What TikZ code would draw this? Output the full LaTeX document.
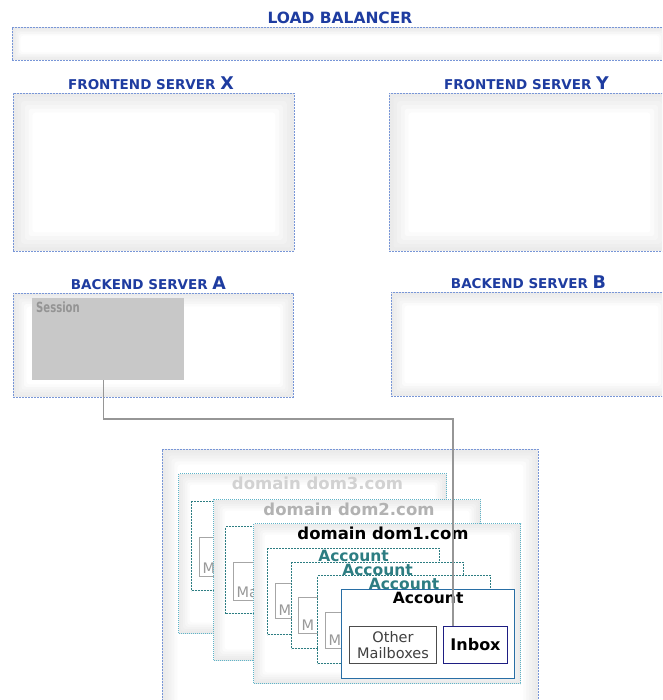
\documentclass[tikz,border=0pt]{standalone}
\usepackage{fontspec}
\setmainfont{DejaVu Sans}
\usepackage{xcolor}
\usepackage{tikz}
\usetikzlibrary{positioning}
\definecolor{srvblue}{RGB}{30, 60, 160}
\definecolor{srvedge}{RGB}{120, 150, 215}
\definecolor{domedge}{RGB}{95, 180, 200}
\definecolor{accteal}{RGB}{45, 125, 130}
\definecolor{accedge}{RGB}{40, 110, 165}
\definecolor{inboxnavy}{RGB}{30, 30, 130}
\definecolor{sessgray}{RGB}{200, 200, 200}
\definecolor{linkgray}{RGB}{150, 150, 150}
\newcommand{\bigfont}{\bfseries\fontsize{17.5}{18}\selectfont}

\begin{document}
\begin{tikzpicture}[
    x=1pt, y=-1pt,
    glow/.style={fill=gray!16, path picture={
        \foreach \f/\c in {0.2/13, 0.4/10, 0.6/7, 0.8/3, 1/0}{
          \fill[gray!\c, rounded corners=3pt]
            ([shift={(\f*#1pt,-\f*#1pt)}]path picture bounding box.north west) rectangle
            ([shift={(-\f*#1pt,\f*#1pt)}]path picture bounding box.south east);
        }}},
    server/.style={rectangle, draw=srvedge, dash pattern=on 2pt off 1pt, line width=0.9pt,
                   glow=#1, anchor=north west, inner sep=0pt},
    dombox/.style={rectangle, draw=domedge, dash pattern=on 1pt off 1pt, line width=1pt,
                   glow=11, anchor=north west, inner sep=0pt},
    account/.style={rectangle, draw=accteal, dash pattern=on 2pt off 1pt, line width=1pt,
                    fill=white, anchor=north west, inner sep=0pt,
                    minimum width=172pt, minimum height=87pt},
    frontacc/.style={account, draw=accedge, solid, line width=1.3pt, minimum height=89pt},
    mailbox/.style={rectangle, draw=gray!70, line width=1pt, fill=white, anchor=north west,
                    inner sep=0pt, minimum width=86pt, minimum height=37pt},
    srvtitle/.style={font=\bfseries\fontsize{13.5}{15}\selectfont, text=srvblue, inner sep=0pt},
    domtitle/.style={font=\bfseries\fontsize{16.5}{18}\selectfont, inner sep=0pt},
    acctitle/.style={font=\bfseries\fontsize{15.5}{17}\selectfont, inner sep=0pt},
    mbtext/.style={font=\fontsize{14.5}{15.5}\selectfont, text=gray!80, inner sep=3.5pt},
    link/.style={draw=linkgray, line width=1.3pt}
]
\useasboundingbox (0,0) rectangle (662,700);
\clip (0,0) rectangle (662,700);

% load balancer and frontends
\node[server=8, minimum width=655pt, minimum height=33pt] (lb) at (12,27) {};
\node[srvtitle, font=\bfseries\fontsize{15.5}{17}\selectfont, above=3pt of lb.north] (lbt) {LOAD BALANCER};
\node[server=19, minimum width=281pt, minimum height=158pt] (fx) at (13,93) {};
\node[srvtitle, above=3pt of fx.north, xshift=-3pt] (fxt) {FRONTEND SERVER {\bigfont X}};
\node[server=19, minimum width=280pt, minimum height=158pt] (fy) at (389,93) {};
\node[srvtitle, above=3pt of fy.north, xshift=-3pt] (fyt) {FRONTEND SERVER {\bigfont Y}};

% backends
\node[server=13, minimum width=280pt, minimum height=104pt] (ba) at (13,293) {};
\node[srvtitle, above=3pt of ba.north, xshift=-5pt] (bat) {BACKEND SERVER {\bigfont A}};
\node[server=13, minimum width=280pt, minimum height=104pt] (bb) at (391,292) {};
\node[srvtitle, above=3pt of bb.north, xshift=-3pt] (bbt) {BACKEND SERVER {\bigfont B}};
\node[rectangle, fill=sessgray, anchor=north west, inner sep=0pt,
      minimum width=152pt, minimum height=82pt,
      label={[anchor=north west, inner sep=4pt, text=black!42,
              font=\bfseries\fontsize{14}{15}\selectfont]north west:\scalebox{0.72}[1]{Session}}] (session) at (32,298) {};

% message store
\node[server=15, minimum width=376pt, minimum height=270pt] (store) at (162,449) {};

\node[dombox, minimum width=268pt, minimum height=160pt] (dom3) at (178,473) {};
\node[domtitle, text=gray!35, below=4pt of dom3.north, xshift=5pt] (dom3t) {domain dom3.com};
\node[account, minimum height=89pt] (acc31) at (191,501) {};
\node[mailbox, minimum height=39pt, label={[mbtext, anchor=south west]south west:M}] (mb31) at (199,537) {};

\node[dombox, minimum width=267pt, minimum height=161pt] (dom2) at (213,499) {};
\node[domtitle, text=gray!60, below=4pt of dom2.north, xshift=2pt] (dom2t) {domain dom2.com};
\node[account] (acc21) at (225,526) {};
\node[mailbox, minimum height=38pt, label={[mbtext, anchor=south west]south west:Ma}] (mb21) at (233,562) {};

\node[dombox, minimum width=267pt, minimum height=160pt] (dom1) at (253,523) {};
\node[domtitle, text=black, below=4pt of dom1.north, xshift=-4pt] (dom1t) {domain dom1.com};

% accounts of dom1.com
\node[account, minimum height=86pt] (acc1) at (267,548) {};
\node[acctitle, text=accteal, below=2pt of acc1.north] (acc1t) {Account};
\node[mailbox, minimum height=35pt, label={[mbtext, anchor=south west]south west:M}] (mb1) at (275,583) {};
\node[account, minimum height=86pt] (acc2) at (291,562) {};
\node[acctitle, text=accteal, below=2pt of acc2.north] (acc2t) {Account};
\node[mailbox, minimum height=36pt, label={[mbtext, anchor=south west]south west:M}] (mb2) at (298,597) {};
\node[account, minimum width=173pt, minimum height=88pt] (acc3) at (317,575) {};
\node[acctitle, text=accteal, below=3pt of acc3.north] (acc3t) {Account};
\node[mailbox, minimum height=36pt, label={[mbtext, anchor=south west]south west:M}] (mb3) at (325,612) {};

\node[frontacc, minimum width=173pt] (acc4) at (341,589) {};
\node[acctitle, text=black, below=3pt of acc4.north] (acc4t) {Account};
\node[mailbox, draw=black!70, minimum width=87pt, align=center,
      font=\fontsize{14.5}{15.5}\selectfont, text=black!75] (other) at (349,626) {Other\\Mailboxes};
\node[mailbox, draw=inboxnavy, minimum width=64pt,
      font=\bfseries\fontsize{16}{17}\selectfont] (inbox) at (443,626) {Inbox};

% session link
\coordinate (hop) at (453,419);
\draw[link] ([xshift=-5pt]session.south) |- (hop) -- (hop |- inbox.north);
\end{tikzpicture}
\end{document}
